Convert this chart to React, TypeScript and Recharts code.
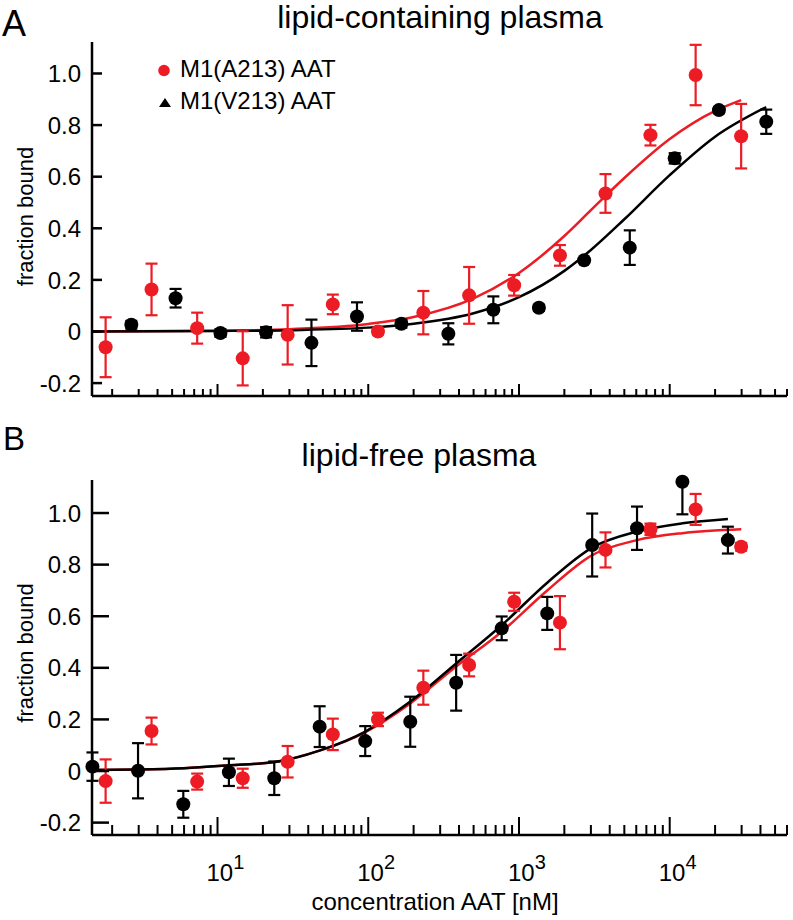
import React from 'react';
import { ComposedChart, Line, Scatter, ErrorBar, XAxis, YAxis, Legend } from 'recharts';

const FONT = '"Liberation Sans", Arial, Helvetica, sans-serif';
const RED = '#ed1c24';
const BLACK = '#000000';

// concentration AAT [nM] for each titration point
const redConc = [1.81, 3.65, 7.33, 14.7, 29.2, 58.2, 116, 232, 467, 929, 1870, 3750, 7450, 14860, 29780];
const blackConcA = [2.68, 5.27, 10.46, 21.0, 42.0, 84.2, 166, 340, 676, 1356, 2706, 5433, 10790, 21220, 43700];
const blackConcB = [1.48, 2.97, 5.93, 11.9, 23.8, 47.6, 95.5, 190, 383, 768, 1540, 3060, 6070, 12140, 24320];

// panel A, lipid-containing plasma
const redA = [-0.061, 0.163, 0.013, -0.104, -0.013, 0.105, 0.0, 0.073, 0.14, 0.179, 0.295, 0.535, 0.761, 0.994, 0.757];
const redAErr = [0.116, 0.1, 0.06, 0.105, 0.115, 0.038, 0.012, 0.084, 0.11, 0.04, 0.04, 0.075, 0.04, 0.117, 0.125];
const blackA = [0.026, 0.129, -0.006, -0.003, -0.044, 0.058, 0.03, -0.009, 0.084, 0.092, 0.276, 0.325, 0.671, 0.858, 0.813];
const blackAErr = [0.015, 0.036, 0.015, 0.02, 0.09, 0.055, 0.015, 0.041, 0.052, 0.012, 0, 0.067, 0.02, 0.012, 0.047];

// panel B, lipid-free plasma
const redB = [-0.039, 0.155, -0.041, -0.028, 0.036, 0.142, 0.2, 0.323, 0.411, 0.656, 0.575, 0.857, 0.937, 1.014, 0.869];
const redBErr = [0.084, 0.052, 0.031, 0.037, 0.061, 0.061, 0.026, 0.066, 0.044, 0.035, 0.103, 0.068, 0.022, 0.06, 0.015];
const blackB = [0.017, 0.001, -0.129, -0.005, -0.028, 0.172, 0.116, 0.191, 0.342, 0.553, 0.611, 0.876, 0.941, 1.121, 0.895];
const blackBErr: (number | number[])[] = [0.055, 0.107, 0.052, 0.053, 0.065, 0.079, 0.058, 0.097, 0.108, 0.046, 0.064, 0.122, 0.084, [0.126, 0], 0.052];

// fitted binding curves
const fitConcRedA = [1.47, 10, 30, 100, 200, 500, 1000, 2000, 3000, 5000, 10000, 20000, 29780];
const fitRedA = [0, 0.003, 0.009, 0.029, 0.056, 0.128, 0.227, 0.37, 0.47, 0.595, 0.746, 0.855, 0.897];
const fitConcBlackA = [1.47, 10, 30, 100, 200, 500, 1000, 2000, 3000, 5000, 10000, 20000, 43700];
const fitBlackA = [0, 0.002, 0.005, 0.015, 0.03, 0.071, 0.133, 0.235, 0.316, 0.435, 0.606, 0.755, 0.87];

const fitConcRedB = [1.47, 3, 6, 12, 24, 48, 95, 190, 383, 768, 1540, 3060, 6070, 12140, 29850];
const fitRedB = [0.004, 0.006, 0.011, 0.022, 0.035, 0.08, 0.15, 0.262, 0.405, 0.54, 0.7, 0.837, 0.895, 0.922, 0.937];
const fitConcBlackB = [1.47, 3, 6, 12, 24, 48, 95, 190, 383, 768, 1540, 3060, 6070, 12140, 24320];
const fitBlackB = [0.004, 0.006, 0.011, 0.022, 0.035, 0.08, 0.152, 0.269, 0.417, 0.565, 0.73, 0.866, 0.928, 0.96, 0.977];

// axis ticks
const decades = [1, 10, 100, 1000, 10000];
const mantissas = [1, 2, 3, 4, 5, 6, 7, 8, 9];
const xDomain = [1.47, 60000];
const xTicks = decades
  .flatMap((d) => mantissas.map((m) => m * d))
  .filter((v) => v >= xDomain[0] && v <= xDomain[1]);
const yTicks = [-0.2, 0, 0.2, 0.4, 0.6, 0.8, 1.0];

const points = (xs: number[], ys: number[], errs: (number | number[])[]) =>
  xs.map((x, i) => ({ x, y: ys[i], err: errs[i] }));
const curve = (xs: number[], ys: number[]) => xs.map((x, i) => ({ x, y: ys[i] }));

const XTick = (props: any) => {
  const { x, y, payload, major, minor, labels } = props;
  const exp = Math.log10(payload.value);
  const isMajor = Math.abs(exp - Math.round(exp)) < 1e-9;
  return (
    <g>
      <line x1={x} x2={x} y1={y} y2={y - (isMajor ? major : minor)} stroke={BLACK} strokeWidth={2} />
      {labels && isMajor && (
        <text x={x - 11} y={y + 46} fontSize={24} fontFamily={FONT} fill={BLACK}>
          10
          <tspan dy={-12} fontSize={20}>{Math.round(exp)}</tspan>
        </text>
      )}
    </g>
  );
};

const YTick = (props: any) => {
  const { x, y, payload, len } = props;
  const v = payload.value;
  return (
    <g>
      <line x1={x} x2={x + len} y1={y} y2={y} stroke={BLACK} strokeWidth={2.5} />
      <text x={x - 11} y={y} dy="0.36em" textAnchor="end" fontSize={24} fontFamily={FONT} fill={BLACK}>
        {v === 0 ? '0' : v.toFixed(1)}
      </text>
    </g>
  );
};

const dot = (color: string) => (p: any) => <circle cx={p.cx} cy={p.cy} r={7} fill={color} />;

const LegendBox = () => (
  <svg width={230} height={62} style={{ display: 'block', overflow: 'visible' }}>
    <circle cx={14} cy={15.5} r={5.8} fill={RED} />
    <text x={30} y={22} fontSize={24} fontFamily={FONT} fill={BLACK}>M1(A213) AAT</text>
    <polygon points="9,52 21,52 15,43" fill={BLACK} />
    <text x={30} y={54} fontSize={24} fontFamily={FONT} fill={BLACK}>M1(V213) AAT</text>
  </svg>
);

interface PanelProps {
  height: number;
  margin: { top: number; right: number; bottom: number; left: number };
  xAxisHeight: number;
  yDomain: number[];
  red: any[];
  black: any[];
  redFit: any[];
  blackFit: any[];
  xMajor: number;
  xMinor: number;
  yLen: number;
  xLabels?: boolean;
  legend?: boolean;
}

const Panel = ({ height, margin, xAxisHeight, yDomain, red, black, redFit, blackFit, xMajor, xMinor, yLen, xLabels = false, legend = false }: PanelProps) => (
  <ComposedChart width={793} height={height} margin={margin}>
    <XAxis
      dataKey="x"
      type="number"
      scale="log"
      domain={xDomain}
      ticks={xTicks}
      interval={0}
      height={xAxisHeight}
      tickSize={0}
      tickMargin={0}
      tickLine={false}
      axisLine={{ stroke: BLACK, strokeWidth: 2.5 }}
      tick={(p: any) => <XTick {...p} major={xMajor} minor={xMinor} labels={xLabels} />}
    />
    <YAxis
      dataKey="y"
      type="number"
      domain={yDomain}
      ticks={yTicks}
      interval={0}
      width={60}
      tickSize={0}
      tickMargin={0}
      tickLine={false}
      axisLine={{ stroke: BLACK, strokeWidth: 2.5 }}
      tick={(p: any) => <YTick {...p} len={yLen} />}
    />
    {legend && (
      <Legend
        layout="vertical"
        align="center"
        verticalAlign="middle"
        content={() => <LegendBox />}
        wrapperStyle={{ left: 150, top: 55, width: 230, height: 62 }}
      />
    )}
    <Line data={redFit} dataKey="y" type="monotone" stroke={RED} strokeWidth={2.5} dot={false} activeDot={false} isAnimationActive={false} />
    <Line data={blackFit} dataKey="y" type="monotone" stroke={BLACK} strokeWidth={2.5} dot={false} activeDot={false} isAnimationActive={false} />
    <Scatter name="M1(A213) AAT" data={red} fill={RED} shape={dot(RED)} isAnimationActive={false}>
      <ErrorBar dataKey="err" direction="y" width={6} stroke={RED} strokeWidth={2.2} isAnimationActive={false} />
    </Scatter>
    <Scatter name="M1(V213) AAT" data={black} fill={BLACK} shape={dot(BLACK)} isAnimationActive={false}>
      <ErrorBar dataKey="err" direction="y" width={6} stroke={BLACK} strokeWidth={2.2} isAnimationActive={false} />
    </Scatter>
  </ComposedChart>
);

export default function App() {
  return (
    <div style={{ position: 'absolute', left: 0, top: 0, width: 793, height: 920, background: '#fff', fontFamily: FONT }}>
      <svg width={793} height={920} style={{ position: 'absolute', left: 0, top: 0 }}>
        <text x={2} y={36} fontSize={36} fontFamily={FONT} fill={BLACK}>A</text>
        <text x={3} y={450} fontSize={33} fontFamily={FONT} fill={BLACK}>B</text>
        <text x={440} y={28} fontSize={32} textAnchor="middle" fontFamily={FONT} fill={BLACK}>lipid-containing plasma</text>
        <text x={419} y={466} fontSize={32} textAnchor="middle" fontFamily={FONT} fill={BLACK}>lipid-free plasma</text>
        <text x={33} y={216.5} fontSize={22} textAnchor="middle" fontFamily={FONT} fill={BLACK} transform="rotate(-90 33 216.5)">fraction bound</text>
        <text x={33} y={653} fontSize={22} textAnchor="middle" fontFamily={FONT} fill={BLACK} transform="rotate(-90 33 653)">fraction bound</text>
        <text x={435} y={910} fontSize={24} textAnchor="middle" fontFamily={FONT} fill={BLACK}>concentration AAT [nM]</text>
      </svg>
      <div style={{ position: 'absolute', left: 0, top: 0 }}>
        <Panel
          height={420}
          margin={{ top: 42, right: 6, bottom: 4, left: 32 }}
          xAxisHeight={20}
          yDomain={[-0.25, 1.122]}
          red={points(redConc, redA, redAErr)}
          black={points(blackConcA, blackA, blackAErr)}
          redFit={curve(fitConcRedA, fitRedA)}
          blackFit={curve(fitConcBlackA, fitBlackA)}
          xMajor={12}
          xMinor={7}
          yLen={10}
          legend
        />
      </div>
      <div style={{ position: 'absolute', left: 0, top: 420 }}>
        <Panel
          height={500}
          margin={{ top: 60, right: 6, bottom: 25, left: 32 }}
          xAxisHeight={60}
          yDomain={[-0.248, 1.128]}
          red={points(redConc, redB, redBErr)}
          black={points(blackConcB, blackB, blackBErr)}
          redFit={curve(fitConcRedB, fitRedB)}
          blackFit={curve(fitConcBlackB, fitBlackB)}
          xMajor={18}
          xMinor={10}
          yLen={17}
          xLabels
        />
      </div>
    </div>
  );
}
